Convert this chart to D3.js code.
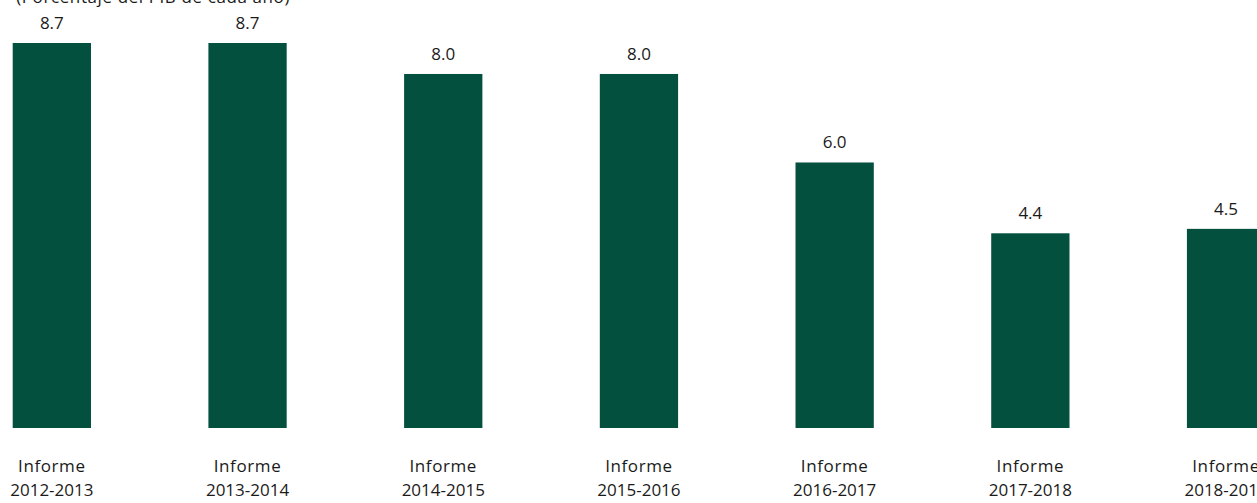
<!DOCTYPE html>
<html lang="es">
<head>
<meta charset="utf-8">
<script src="https://cdn.jsdelivr.net/npm/d3@7"></script>
<style>
  html, body { margin: 0; padding: 0; background: #ffffff; overflow: hidden; }
  svg { display: block; font-family: "Open Sans", "Noto Sans", sans-serif; }
</style>
</head>
<body>
<svg id="chart" width="1257" height="503"></svg>
<script>
// Informes y porcentaje del PIB
const informes = ["2012-2013", "2013-2014", "2014-2015", "2015-2016", "2016-2017", "2017-2018", "2018-2019"];
const valores = [8.7, 8.7, 8.0, 8.0, 6.0, 4.4, 4.5];
const subtitulo = "(Porcentaje del PIB de cada año)";

const svg = d3.select("#chart");
const baseY = 428;
const barColor = "#03503f";

const x = d3.scaleBand()
  .domain(informes)
  .range([12.7, 1265.2])
  .paddingInner(0.6)
  .paddingOuter(0);

const y = d3.scaleLinear()
  .domain([0, 8.7])
  .range([baseY, 43]);

// subtitle, partially above the visible area
svg.append("text")
  .attr("x", 290)
  .attr("y", 2.5)
  .attr("text-anchor", "end")
  .attr("font-size", 17)
  .attr("letter-spacing", 0.6)
  .attr("fill", "#1a1a1a")
  .text(subtitulo);

const data = informes.map((k, i) => ({ k, v: valores[i] }));

svg.append("g").selectAll("rect")
  .data(data)
  .join("rect")
  .attr("x", d => x(d.k))
  .attr("y", d => y(d.v))
  .attr("width", x.bandwidth())
  .attr("height", d => baseY - y(d.v))
  .attr("fill", barColor);

svg.append("g").selectAll("text")
  .data(data)
  .join("text")
  .attr("x", d => x(d.k) + x.bandwidth() / 2)
  .attr("y", d => y(d.v) - 14)
  .attr("text-anchor", "middle")
  .attr("font-size", 17)
  .attr("fill", "#1a1a1a")
  .text(d => d3.format(".1f")(d.v));

// category labels on two lines
const cat = svg.append("g").selectAll("text")
  .data(data)
  .join("text")
  .attr("text-anchor", "middle")
  .attr("font-size", 17)
  .attr("fill", "#1a1a1a");
cat.append("tspan")
  .attr("x", d => x(d.k) + x.bandwidth() / 2)
  .attr("y", 472)
  .attr("letter-spacing", 0.6)
  .text("Informe");
cat.append("tspan")
  .attr("x", d => x(d.k) + x.bandwidth() / 2)
  .attr("y", 496)
  .text(d => d.k);
</script>
</body>
</html>
